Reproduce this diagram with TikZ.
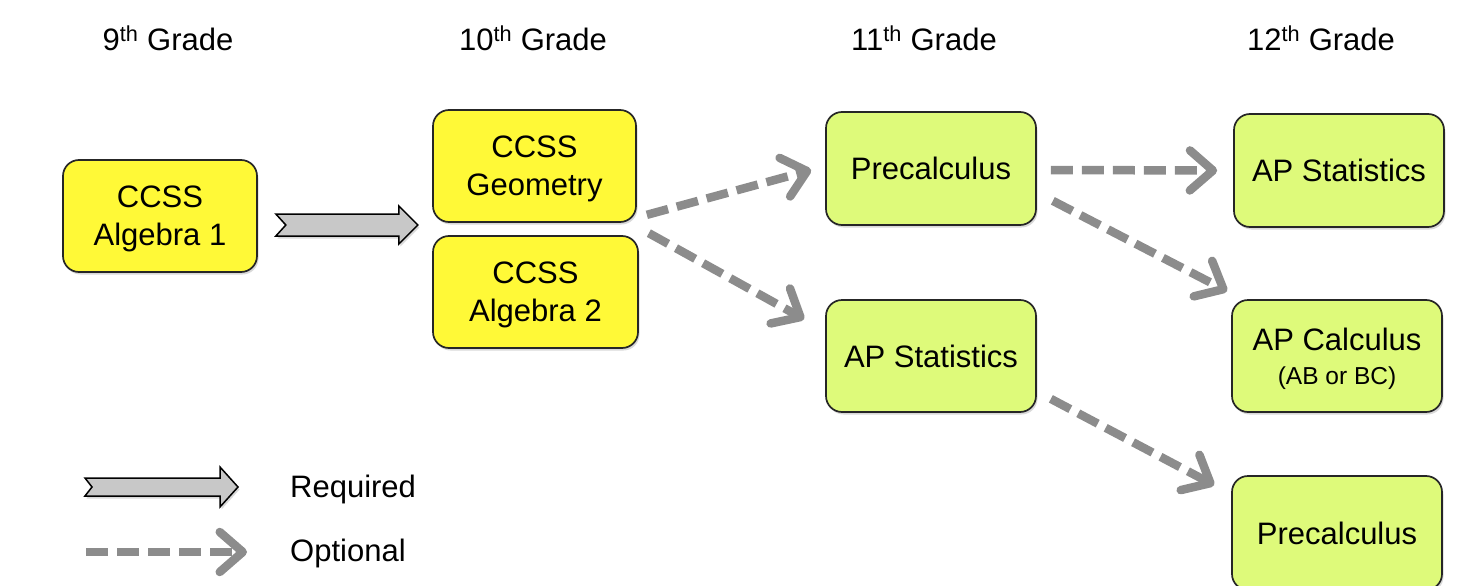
\documentclass[tikz,border=0pt]{standalone}
\usepackage{fontspec}
\setmainfont{Liberation Sans}
\usetikzlibrary{arrows.meta,shadows,calc}
\definecolor{boxyellow}{RGB}{255,249,55}
\definecolor{boxgreen}{RGB}{222,250,122}
\definecolor{optgray}{RGB}{140,140,140}
\definecolor{reqgray}{RGB}{200,200,200}
\tikzset{
  course/.style={draw=black!85, line width=1.7pt, rounded corners=16pt, align=center,
    font=\fontsize{31}{38}\selectfont, inner sep=0pt,
    drop shadow={shadow xshift=1.5pt, shadow yshift=-2.5pt, opacity=0.3}},
  yel/.style={course, fill=boxyellow},
  grn/.style={course, fill=boxgreen},
  twoline/.style={text depth=-4pt},
  hdr/.style={font=\fontsize{31}{36}\selectfont, inner sep=0pt},
  opt/.style={draw=optgray, line width=8.5pt, dash pattern=on 22pt off 9pt,
    -{Straight Barb[length=23pt,width=40pt,round]}},
  req/.style={draw=black, line width=1.5pt, fill=reqgray, line join=miter,
    drop shadow={shadow xshift=1.5pt, shadow yshift=-2.5pt, opacity=0.3}},
  pics/reqarrow/.style n args={5}{code={
    \draw[req] (0,-#3) -- (#2,-#3) -- (#2,-#4) -- (#1,0) -- (#2,#4) -- (#2,#3) -- (0,#3) -- (#5,0) -- cycle;}},
}
\begin{document}
\begin{tikzpicture}[x=1pt,y=-1pt]
\useasboundingbox (0,0) rectangle (1459,586);
\clip (0,0) rectangle (1459,586);
% headers
\node[hdr, anchor=base] (h9)  at (168,51)  {9\textsuperscript{th} Grade};
\node[hdr, anchor=base] (h10) at (533,51)  {10\textsuperscript{th} Grade};
\node[hdr, anchor=base] (h11) at (924,51)  {11\textsuperscript{th} Grade};
\node[hdr, anchor=base] (h12) at (1321,51) {12\textsuperscript{th} Grade};
% course boxes
\node[yel, twoline, minimum width=194pt, minimum height=112pt] (alg1) at (160,216) {CCSS\\Algebra 1};
\node[yel, twoline, minimum width=203pt, minimum height=112pt] (geo) at (534.5,166) {CCSS\\Geometry};
\node[yel, twoline, minimum width=205pt, minimum height=112pt] (alg2) at (535.5,292) {CCSS\\Algebra 2};
\node[grn, minimum width=210pt, minimum height=113pt] (pre11) at (931,168.5) {\raisebox{0pt}{Precalculus}};
\node[grn, minimum width=210pt, minimum height=112pt] (aps11) at (931,356) {AP Statistics};
\node[grn, minimum width=210pt, minimum height=113pt] (aps12) at (1339,170.5) {AP Statistics};
\node[grn, twoline, minimum width=210pt, minimum height=112pt] (apc) at (1337,356)
  {AP Calculus\\[-4pt]{\fontsize{24.5}{28}\selectfont (AB or BC)}};
\node[grn, minimum width=210pt, minimum height=114pt] (pre12) at (1337,533) {Precalculus};
% required arrow
\pic at ([shift={(18,9)}]alg1.east) {reqarrow={142}{123}{11}{19}{10}};
% optional arrows
\draw[opt] ([shift={(10,-8)}]geo.south east) -- ([shift={(-14,1.5)}]pre11.west);
\draw[opt] ([shift={(10,-2)}]alg2.north east) -- ([shift={(-21,20)}]aps11.north west);
\draw[opt] ([shift={(14,1.5)}]pre11.east) -- ([shift={(-16,0)}]aps12.west);
\draw[opt] ([shift={(16,-25)}]pre11.south east) -- ([shift={(-4,-8)}]apc.north west);
\draw[opt] ([shift={(14,-14)}]aps11.south east) -- ([shift={(-17,10)}]pre12.north west);
% legend
\coordinate (lr) at (85,487);
\pic at (lr) {reqarrow={153}{135}{9}{20}{7}};
\node[hdr, anchor=base west] (lreq) at (290,497) {Required};
\coordinate (lo1) at (86,552);
\coordinate (lo2) at (247,552);
\draw[opt] (lo1) -- (lo2);
\node[hdr, anchor=base west] (lopt) at (290,561) {Optional};
\end{tikzpicture}
\end{document}
